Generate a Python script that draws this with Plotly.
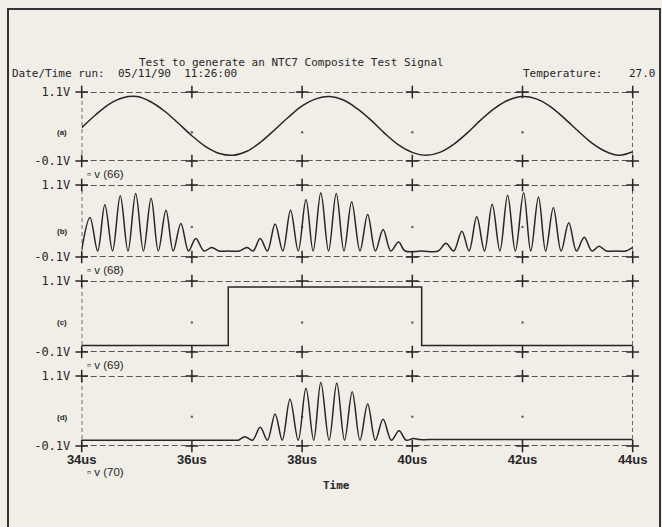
import plotly.graph_objects as go
from plotly.subplots import make_subplots

# ---------------- data ----------------
X_TICKS = [34, 36, 38, 40, 42, 44]
X_TICK_TEXT = ["34us", "36us", "38us", "40us", "42us", "44us"]
Y_TICKS = [-0.1, 1.1]
Y_TICK_TEXT = ["-0.1V", "1.1V"]
GRID_DOT_X = [36, 38, 40, 42]
PANEL_TAGS = ["(a)", "(b)", "(c)", "(d)"]
TRACE_NAMES = ["v (66)", "v (68)", "v (69)", "v (70)"]

A_TIME = [34.0, 34.25, 34.5, 34.75, 35.0, 35.25, 35.5, 35.75, 36.0, 36.25,
          36.5, 36.75, 37.0, 37.25, 37.5, 37.75, 38.0, 38.25, 38.5, 38.75,
          39.0, 39.25, 39.5, 39.75, 40.0, 40.25, 40.5, 40.75, 41.0, 41.25,
          41.5, 41.75, 42.0, 42.25, 42.5, 42.75, 43.0, 43.25, 43.5, 43.75, 44.0]
A_VOLT = [0.48, 0.70, 0.89, 1.00, 1.02, 0.93, 0.77, 0.56, 0.34, 0.15,
          0.03, 0.00, 0.07, 0.23, 0.44, 0.66, 0.86, 0.98, 1.02, 0.96,
          0.81, 0.61, 0.38, 0.18, 0.05, 0.00, 0.05, 0.19, 0.39, 0.62,
          0.82, 0.96, 1.02, 0.98, 0.85, 0.65, 0.43, 0.22, 0.07, 0.00, 0.06]

B_TIME = [34.00, 34.15, 34.29, 34.42, 34.56, 34.70, 34.84, 34.98, 35.12, 35.26,
          35.39, 35.53, 35.66, 35.80, 35.94, 36.07, 36.22, 36.36, 36.49, 36.66,
          36.86, 37.00, 37.11, 37.24, 37.37, 37.51, 37.65, 37.79, 37.93, 38.07,
          38.20, 38.34, 38.48, 38.62, 38.76, 38.90, 39.05, 39.19, 39.33, 39.47,
          39.61, 39.75, 39.87, 40.17, 40.47, 40.61, 40.75, 40.90, 41.03, 41.17,
          41.31, 41.45, 41.59, 41.73, 41.87, 42.02, 42.15, 42.29, 42.42, 42.56,
          42.70, 42.84, 42.98, 43.12, 43.26, 43.39, 43.52, 43.70, 43.88, 44.00]
B_VOLT = [0.02, 0.56, 0.00, 0.77, 0.00, 0.92, 0.00, 0.96, 0.00, 0.88,
          0.00, 0.68, 0.00, 0.46, 0.00, 0.21, 0.00, 0.06, 0.00, 0.00,
          0.00, 0.06, 0.00, 0.21, 0.00, 0.45, 0.00, 0.68, 0.00, 0.86,
          0.00, 0.97, 0.00, 0.96, 0.00, 0.82, 0.00, 0.61, 0.00, 0.36,
          0.00, 0.15, 0.00, 0.00, 0.00, 0.13, 0.00, 0.33, 0.00, 0.57,
          0.00, 0.78, 0.00, 0.93, 0.00, 0.97, 0.00, 0.90, 0.00, 0.72,
          0.00, 0.47, 0.00, 0.23, 0.00, 0.08, 0.00, 0.00, 0.00, 0.06]

C_TIME = [34.0, 36.66, 36.66, 40.17, 40.17, 44.0]
C_VOLT = [0.01, 0.01, 1.00, 1.00, 0.01, 0.01]

D_TIME = [34.00, 36.60, 36.75, 36.84, 36.96, 37.10, 37.24, 37.37, 37.51, 37.64,
          37.78, 37.93, 38.07, 38.21, 38.34, 38.49, 38.63, 38.77, 38.91, 39.05,
          39.19, 39.33, 39.47, 39.62, 39.76, 39.89, 40.02, 40.14, 40.30, 44.00]
D_VOLT = [0.00, 0.00, 0.00, 0.00, 0.06, 0.00, 0.22, 0.00, 0.45, 0.00,
          0.70, 0.00, 0.89, 0.00, 0.99, 0.00, 0.98, 0.00, 0.83, 0.00,
          0.62, 0.00, 0.36, 0.00, 0.16, 0.00, 0.03, 0.01, 0.01, 0.01]

# ---------------- styling ----------------
W, H = 662, 527
BG = "#f1eee8"
INK = "#262626"
MONO = "DejaVu Sans Mono"
SANS = "Liberation Sans"

PANELS_PX = [(92, 161), (185, 257), (281, 352), (376, 446)]
X_LEFT, X_RIGHT = 81.7, 632.7


def px_x(p):
    return p / W


def px_y(p):
    return 1 - p / H


fig = make_subplots(rows=4, cols=1, shared_xaxes=False)

series = [(A_TIME, A_VOLT, "spline"), (B_TIME, B_VOLT, "spline"),
          (C_TIME, C_VOLT, "linear"), (D_TIME, D_VOLT, "spline")]

for i, (tx, vy, shp) in enumerate(series):
    r = i + 1
    fig.add_trace(go.Scatter(
        x=X_TICKS + X_TICKS, y=[Y_TICKS[0]] * len(X_TICKS) + [Y_TICKS[1]] * len(X_TICKS),
        mode="markers", cliponaxis=False, hoverinfo="skip", showlegend=False,
        marker=dict(symbol="cross-thin", size=9, line=dict(width=1.5, color=INK))),
        row=r, col=1)
    fig.add_trace(go.Scatter(
        x=GRID_DOT_X, y=[0.4] * len(GRID_DOT_X), mode="markers", hoverinfo="skip",
        showlegend=False, marker=dict(size=2.5, color="#666")), row=r, col=1)
    line = dict(color=INK, width=1.5, shape=shp)
    if shp == "spline":
        line["smoothing"] = 1.0
    fig.add_trace(go.Scatter(x=tx, y=vy, mode="lines", line=line, cliponaxis=False,
                             name=TRACE_NAMES[i], showlegend=False), row=r, col=1)

shapes = []
annotations = []


def note(x, y, text, size, family, xanchor="center"):
    return dict(xref="paper", yref="paper", x=px_x(x), y=px_y(y), text=text,
                xanchor=xanchor, yanchor="middle", showarrow=False,
                font=dict(family=family, size=size, color=INK))


for i, (top, bot) in enumerate(PANELS_PX):
    r = i + 1
    xa = "xaxis" if r == 1 else f"xaxis{r}"
    ya = "yaxis" if r == 1 else f"yaxis{r}"
    xref = "x" if r == 1 else f"x{r}"
    yref = "y" if r == 1 else f"y{r}"
    fig.layout[xa].update(
        domain=[px_x(X_LEFT), px_x(X_RIGHT)], range=[34, 44], automargin=False,
        showgrid=False, zeroline=False, showline=False,
        tickvals=X_TICKS, ticktext=[f"<b>{t}</b>" for t in X_TICK_TEXT],
        showticklabels=(r == 4), ticks="outside", ticklen=1,
        tickcolor="rgba(0,0,0,0)",
        tickfont=dict(family=SANS, size=13, color=INK))
    fig.layout[ya].update(
        domain=[px_y(bot), px_y(top)], range=[-0.1, 1.1], automargin=False,
        showgrid=False, zeroline=False, showline=False,
        tickvals=Y_TICKS, ticktext=Y_TICK_TEXT,
        ticks="outside", ticklen=8, tickcolor="rgba(0,0,0,0)",
        tickfont=dict(family=MONO, size=12, color=INK))
    for yv in Y_TICKS:
        shapes.append(dict(type="line", xref=f"{xref} domain", yref=yref,
                           x0=0, x1=1, y0=yv, y1=yv, layer="below",
                           line=dict(color=INK, width=1.3, dash="6px,3px")))
    for xv in (X_TICKS[0], X_TICKS[-1]):
        shapes.append(dict(type="line", xref=xref, yref=f"{yref} domain",
                           x0=xv, x1=xv, y0=0, y1=1, layer="below",
                           line=dict(color=INK, width=1.3, dash="4px,3px")))
    mid = (top + bot) / 2 + (11 if r == 2 else 6)
    annotations.append(note(62, mid, f"<b>{PANEL_TAGS[i]}</b>", 8, SANS))
    ly = bot + 13 if r < 4 else 472
    annotations.append(note(85, ly, "\u25ab " + TRACE_NAMES[i], 11.5, SANS, "left"))

annotations += [
    note(291, 63, "Test to generate an NTC7 Composite Test Signal", 11, MONO),
    note(10, 74, "Date/Time run:  05/11/90  11:26:00", 11, MONO, "left"),
    note(657, 74, "Temperature:    27.0", 11, MONO, "right"),
    note(336, 485, "<b>Time</b>", 11, MONO),
]

shapes.append(dict(type="rect", xref="paper", yref="paper",
                   x0=px_x(8), x1=px_x(660), y0=-0.05, y1=px_y(9),
                   line=dict(color="#333", width=2), layer="below"))

fig.update_layout(
    width=W, height=H, autosize=False, margin=dict(l=0, r=0, t=0, b=0, pad=0),
    paper_bgcolor=BG, plot_bgcolor=BG,
    shapes=shapes, annotations=annotations, showlegend=False,
)

fig.write_html("out.html", config={"displayModeBar": False},
               post_script="document.body.style.margin='0';")
